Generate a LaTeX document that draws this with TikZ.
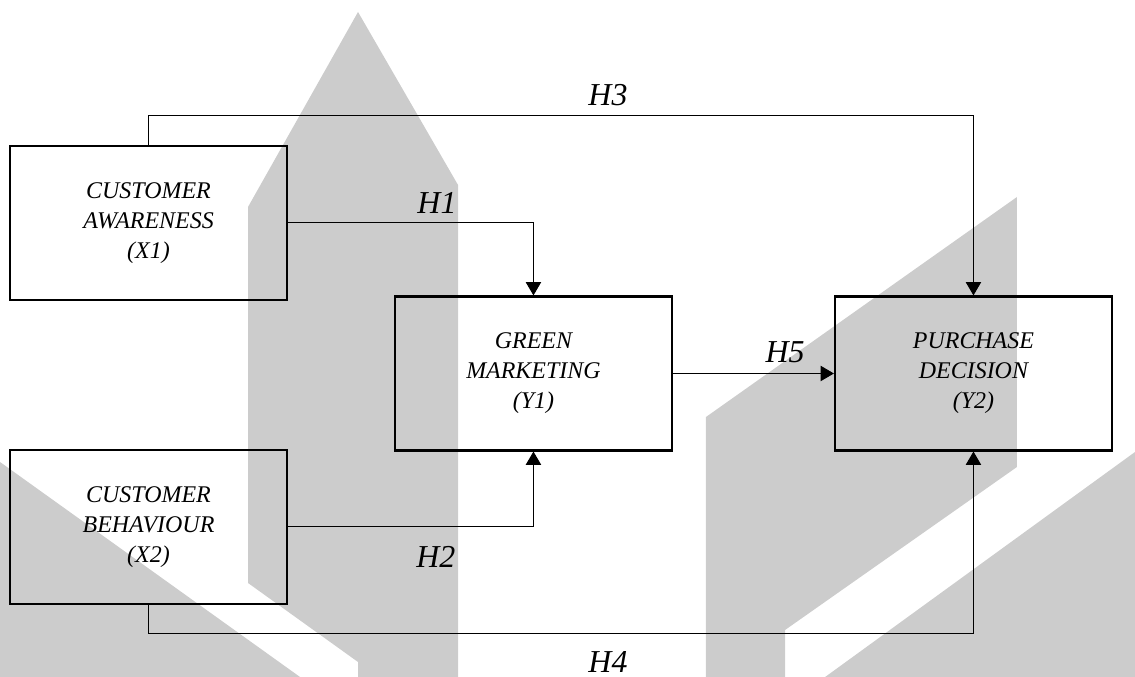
\documentclass[tikz,border=0pt]{standalone}
\usepackage{fontspec}
\setmainfont{Liberation Serif}
\usepackage{tikz}
\usetikzlibrary{arrows.meta, positioning}
\definecolor{wmgray}{RGB}{204, 204, 204}

\tikzset{
    varbox/.style={draw=black, line width=1.6pt, minimum width=7.32cm, minimum height=4.07cm,
        inner sep=0pt, align=center, font=\fontsize{18}{22.5}\selectfont\itshape},
    link/.style={draw=black, line width=0.75pt, -{Triangle[length=10pt, width=11.5pt]}},
    hyp/.style={font=\fontsize{24}{28}\selectfont\itshape}
}

\begin{document}
\begin{tikzpicture}
    \useasboundingbox (0,0) rectangle (30,17.894);

    % Watermark shapes
    \fill[wmgray] (6.555,12.423) -- (9.463,17.577) -- (12.106,13.005) -- (12.106,0)
        -- (9.463,0) -- (9.463,0.396) -- (6.555,2.485) -- cycle;
    \fill[wmgray] (0,5.683) -- (7.93,0) -- (0,0) -- cycle;
    \fill[wmgray] (18.66,6.872) -- (26.88,12.687) -- (26.88,5.551) -- (20.75,1.242)
        -- (20.75,0) -- (18.66,0) -- cycle;
    \fill[wmgray] (21.81,0) -- (30,5.947) -- (30,0) -- cycle;

    % Variables
    \node[varbox] (x1) at (3.925,12.0) {CUSTOMER\\AWARENESS\\(X1)};
    \node[varbox] (x2) at (3.925,3.965) {CUSTOMER\\BEHAVIOUR\\(X2)};
    \node[varbox] (y1) at (14.10,8.022) {GREEN\\MARKETING\\(Y1)};
    \node[varbox] (y2) at (25.73,8.022) {PURCHASE\\DECISION\\(Y2)};

    % Routing levels
    \coordinate (top) at (0,14.828);
    \coordinate (bottom) at (0,1.137);

    % Hypotheses
    \draw[link] (x1.east) -| (y1.north);
    \draw[link] (x2.east) -| (y1.south);
    \draw[link] (x1.north) -- (x1.north |- top) -| (y2.north);
    \draw[link] (x2.south) -- (x2.south |- bottom) -| (y2.south);
    \draw[link] (y1.east) -- (y2.west);

    \node[hyp] (h1) at (11.55,12.53) {H1};
    \node[hyp] (h2) at (11.52,3.17) {H2};
    \node[hyp] (h3) at (16.07,15.38) {H3};
    \node[hyp] (h4) at (16.07,0.40) {H4};
    \node[hyp] (h5) at (20.75,8.59) {H5};
\end{tikzpicture}
\end{document}
